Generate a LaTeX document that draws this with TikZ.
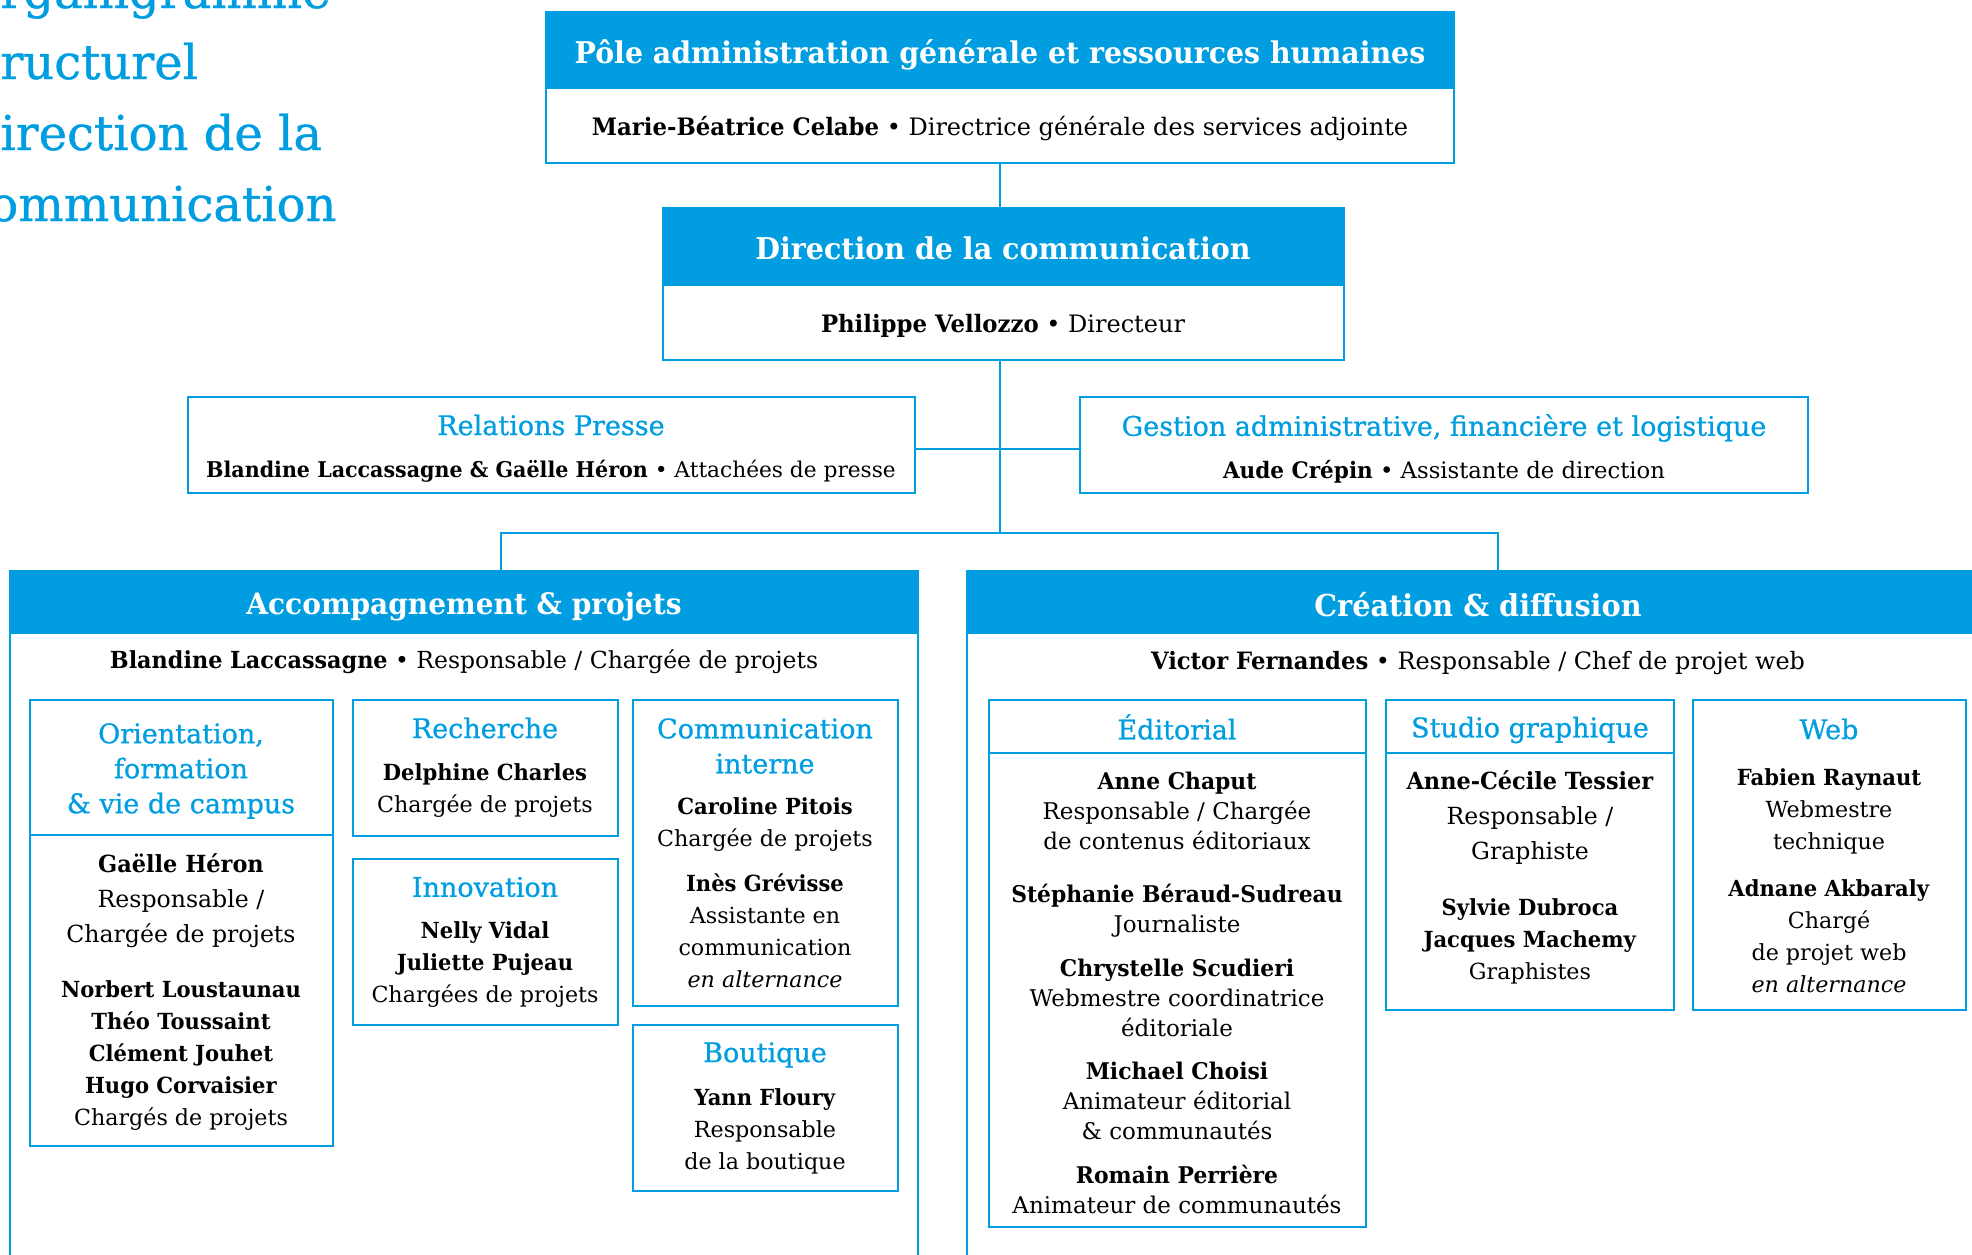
\documentclass[tikz,border=0pt]{standalone}
\usepackage{fontspec}
\setmainfont{DejaVu Serif}[BoldFeatures={FakeStretch=0.95}]
\newfontfamily\medfont{DejaVu Serif}[FakeBold=0.8]
\definecolor{cblue}{RGB}{0,158,224}
\newcommand\mkbox[6][]{%
  \pgfmathsetmacro\bw{(#5-#3)*0.5}\pgfmathsetmacro\bh{(#6-#4)*0.5}%
  \node[frame,#1,anchor=north west,minimum width=\bw pt,minimum height=\bh pt] (#2) at (#3,#4) {};}
\begin{document}
\begin{tikzpicture}[x=0.5pt,y=-0.5pt,
  frame/.style={draw=cblue,line width=1.3pt,inner sep=0pt,outer sep=0pt},
  hfill/.style={fill=cblue},
  link/.style={draw=cblue,line width=1.3pt},
  titlel/.style={text=cblue,inner sep=0pt,font=\medfont\fontsize{24}{30}\selectfont},
  htxt/.style={text=white,inner sep=0pt,align=center,font=\fontsize{#1}{16}\selectfont\bfseries},
  ttxt/.style={text=cblue,inner sep=0pt,align=center,font=\medfont\fontsize{13.5}{17.5}\selectfont},
  lbody/.style={text=black,inner sep=0pt,align=center,font=\fontsize{#1}{14}\selectfont},
  sbody/.style={text=black,inner sep=0pt,align=center,font=\fontsize{11.1}{16}\selectfont},
  ebody/.style={text=black,inner sep=0pt,align=center,font=\fontsize{11.5}{15}\selectfont},
  bbody/.style={text=black,inner sep=0pt,align=center,font=\fontsize{11.8}{17.5}\selectfont},
]
\useasboundingbox (0,0) rectangle (1972,1254);
% title
\node[titlel,anchor=base west] (tl1) at (0,8) {\llap{O}rganigramme};
\node[titlel,anchor=base west] (tl2) at (0,79) {\llap{st}ructurel};
\node[titlel,anchor=base west] (tl3) at (0,150) {\llap{D}irection de la};
\node[titlel,anchor=base west] (tl4) at (-11,221) {\llap{c}ommunication};
% boxes
\mkbox[hfill]{poleH}{546}{12}{1454}{88}
\mkbox{pole}{546}{12}{1454}{163}
\mkbox[hfill]{dirH}{663}{208}{1344}{285}
\mkbox{dir}{663}{208}{1344}{360}
\mkbox{presse}{188}{397}{915}{493}
\mkbox{gestion}{1080}{397}{1808}{493}
\mkbox[hfill]{accH}{10}{571}{918}{633}
\mkbox{acc}{10}{571}{918}{1300}
\mkbox[hfill]{creaH}{967}{571}{1995}{633}
\mkbox{crea}{967}{571}{1995}{1300}
\mkbox{orientH}{30}{700}{333}{835}
\mkbox{orient}{30}{700}{333}{1146}
\mkbox{rech}{353}{700}{618}{836}
\mkbox{innov}{353}{859}{618}{1025}
\mkbox{comint}{633}{700}{898}{1006}
\mkbox{bout}{633}{1025}{898}{1191}
\mkbox{editH}{989}{700}{1366}{753}
\mkbox{edit}{989}{700}{1366}{1227}
\mkbox{studioH}{1386}{700}{1674}{753}
\mkbox{studio}{1386}{700}{1674}{1010}
\mkbox{web}{1693}{700}{1966}{1010}
% connectors
\coordinate (j1) at (1000,449);
\coordinate (j2) at (1000,533);
\coordinate (ja) at (501,533);
\coordinate (jc) at (1498,533);
\draw[link] (pole.south -| j1) -- (dir.north -| j1);
\draw[link] (dir.south -| j1) -- (j2);
\draw[link] (presse.east |- j1) -- (gestion.west |- j1);
\draw[link] (accH.north -| ja) -- (ja) -- (jc) -- (creaH.north -| jc);
% texts
\node[htxt=14.95] (poleT) at (1000,55) {Pôle administration générale et ressources humaines};
\node[lbody=12] (poleB) at (1000,129) {\textbf{Marie-Béatrice Celabe} • Directrice générale des services adjointe};
\node[htxt=15] (dirT) at (1003,248) {Direction de la communication};
\node[lbody=12] (dirB) at (1003,326) {\textbf{Philippe Vellozzo} • Directeur};
\node[ttxt] (presseT) at (551,425) {Relations Presse};
\node[lbody=10.85] (presseB) at (551,471) {\textbf{Blandine Laccassagne \& Gaëlle Héron} • Attachées de presse};
\node[ttxt] (gestT) at (1444,428) {Gestion administrative, financière et logistique};
\node[lbody=11.35] (gestB) at (1444,472) {\textbf{Aude Crépin} • Assistante de direction};
\node[htxt=14.75] (accT) at (464,607) {Accompagnement \& projets};
\node[lbody=11.75] (accB) at (464,662) {\textbf{Blandine Laccassagne} • Responsable / Chargée de projets};
\node[htxt=15.1] (creaT) at (1478,605) {Création \& diffusion};
\node[lbody=11.95] (creaB) at (1478,663) {\textbf{Victor Fernandes} • Responsable / Chef de projet web};
% orientation
\node[ttxt] (orientT) at (181,771) {Orientation,\\formation\\\& vie de campus};
\node[bbody] (orientB1) at (181,901) {\textbf{Gaëlle Héron}\\Responsable /\\Chargée de projets};
\node[sbody] (orientB2) at (181,1056) {\textbf{Norbert Loustaunau}\\\textbf{Théo Toussaint}\\\textbf{Clément Jouhet}\\\textbf{Hugo Corvaisier}\\Chargés de projets};
% recherche / innovation
\node[ttxt] (rechT) at (485,728) {Recherche};
\node[sbody] (rechB) at (485,791) {\textbf{Delphine Charles}\\Chargée de projets};
\node[ttxt] (innovT) at (485,887) {Innovation};
\node[sbody] (innovB) at (485,965) {\textbf{Nelly Vidal}\\\textbf{Juliette Pujeau}\\Chargées de projets};
% communication interne / boutique
\node[ttxt] (comintT) at (765,746) {Communication\\interne};
\node[sbody] (comintB1) at (765,825) {\textbf{Caroline Pitois}\\Chargée de projets};
\node[sbody] (comintB2) at (765,931) {\textbf{Inès Grévisse}\\Assistante en\\communication\\\textit{en alternance}};
\node[ttxt] (boutT) at (765,1055) {Boutique};
\node[sbody] (boutB) at (765,1131) {\textbf{Yann Floury}\\Responsable\\de la boutique};
% editorial
\node[ttxt] (editT) at (1177,727) {Éditorial};
\node[ebody] (editB1) at (1177,811) {\textbf{Anne Chaput}\\Responsable / Chargée\\de contenus éditoriaux};
\node[ebody] (editB2) at (1177,911) {\textbf{Stéphanie Béraud-Sudreau}\\Journaliste};
\node[ebody] (editB3) at (1177,998) {\textbf{Chrystelle Scudieri}\\Webmestre coordinatrice\\éditoriale};
\node[ebody] (editB4) at (1177,1101) {\textbf{Michael Choisi}\\Animateur éditorial\\\& communautés};
\node[ebody] (editB5) at (1177,1189) {\textbf{Romain Perrière}\\Animateur de communautés};
% studio
\node[ttxt] (studioT) at (1530,730) {Studio graphique};
\node[bbody] (studioB1) at (1530,818) {\textbf{Anne-Cécile Tessier}\\Responsable /\\Graphiste};
\node[sbody] (studioB2) at (1530,941) {\textbf{Sylvie Dubroca}\\\textbf{Jacques Machemy}\\Graphistes};
% web
\node[ttxt] (webT) at (1829,729) {Web};
\node[sbody] (webB1) at (1829,811) {\textbf{Fabien Raynaut}\\Webmestre\\technique};
\node[sbody] (webB2) at (1829,936) {\textbf{Adnane Akbaraly}\\Chargé\\de projet web\\\textit{en alternance}};
\end{tikzpicture}
\end{document}
